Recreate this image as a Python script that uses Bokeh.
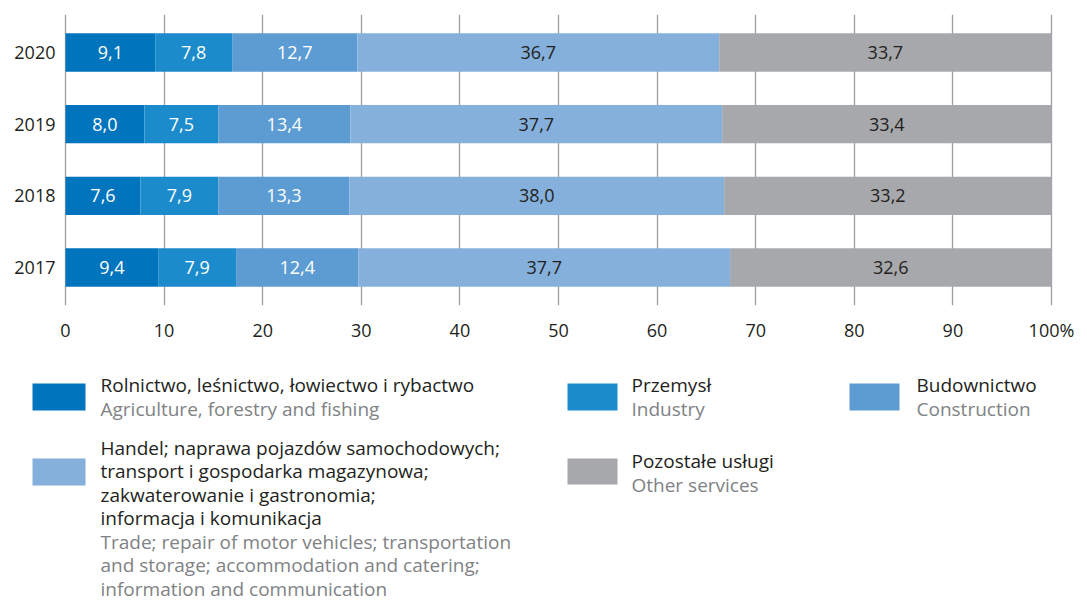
from bokeh.plotting import figure
from bokeh.layouts import column
from bokeh.models import ColumnDataSource, Range1d, FixedTicker
from bokeh.core.properties import value
from bokeh.embed import file_html
from bokeh.resources import INLINE

# ---------------- data ----------------
years = [2017, 2018, 2019, 2020]
agriculture = [9.4, 7.6, 8.0, 9.1]
industry = [7.9, 7.9, 7.5, 7.8]
construction = [12.4, 13.3, 13.4, 12.7]
trade = [37.7, 38.0, 37.7, 36.7]
other = [32.6, 33.2, 33.4, 33.7]
x_ticks = [0, 10, 20, 30, 40, 50, 60, 70, 80, 90, 100]

series_names = ["agriculture", "industry", "construction", "trade", "other"]
series_values = [agriculture, industry, construction, trade, other]
series_pl = ["Rolnictwo, leśnictwo, łowiectwo i rybactwo", "Przemysł", "Budownictwo",
             "Handel; naprawa pojazdów samochodowych;\ntransport i gospodarka magazynowa;\nzakwaterowanie i gastronomia;\ninformacja i komunikacja",
             "Pozostałe usługi"]
series_en = ["Agriculture, forestry and fishing", "Industry", "Construction",
             "Trade; repair of motor vehicles; transportation\nand storage; accommodation and catering;\ninformation and communication",
             "Other services"]

# ---------------- styles ----------------
colors = ["#0074BD", "#1B8BCB", "#5C9CD3", "#85B0DC", "#A7A8AC"]
label_colors = ["#FFFFFF", "#FFFFFF", "#FFFFFF", "#231F20", "#231F20"]
FONT = "Open Sans"
DARK = "#231F20"
GREY_TXT = "#808285"

W = 1087
CH = 345
LH = 601 - CH

# plot frame spans the full width; 0 -> 65 px, 100 -> 1051 px
PX = (1051 - 65) / 100.0
x0 = -65 / PX
x1 = 100 + (W - 1051) / PX

# ---------------- chart ----------------
src = ColumnDataSource(dict(year=years, **{n: v for n, v in zip(series_names, series_values)}))

p = figure(width=W, height=CH, x_range=Range1d(x0, x1), y_range=Range1d(2016.47, 2020.53),
           output_backend="svg", toolbar_location=None, y_axis_location=None,
           min_border_left=0, min_border_right=0, min_border_top=14, min_border_bottom=40)
p.outline_line_color = None
p.background_fill_color = "white"
p.border_fill_color = "white"

p.hbar_stack(series_names, y="year", height=0.536, fill_color=colors, line_color=None, source=src)

# value labels
lx, ly, lt, lc = [], [], [], []
for i, yr in enumerate(years):
    cum = 0.0
    for k, vals in enumerate(series_values):
        v = vals[i]
        lx.append(cum + v / 2)
        ly.append(yr)
        lt.append(f"{v:.1f}".replace(".", ","))
        lc.append(label_colors[k])
        cum += v
p.text(x="x", y="y", text="t", text_color="c", source=ColumnDataSource(dict(x=lx, y=ly, t=lt, c=lc)),
       text_align="center", text_baseline="middle", text_font=value(FONT), text_font_size="18px")

# year (category) labels
p.text(x=[0] * len(years), y=years, text=[str(y) for y in years], x_offset=-10,
       text_align="right", text_baseline="middle", text_font=value(FONT), text_font_size="18px",
       text_color=DARK)

p.xgrid.ticker = FixedTicker(ticks=x_ticks)
p.xgrid.grid_line_color = "#9E9E9E"
p.xgrid.grid_line_width = 1.3
p.ygrid.grid_line_color = None

p.xaxis.ticker = FixedTicker(ticks=x_ticks)
p.xaxis.major_label_overrides = {100: "100%"}
p.xaxis.axis_line_color = None
p.xaxis.major_tick_line_color = None
p.xaxis.minor_tick_line_color = None
p.xaxis.major_label_text_font = FONT
p.xaxis.major_label_text_font_size = "18px"
p.xaxis.major_label_text_color = DARK
p.xaxis.major_label_standoff = 6

# ---------------- legend ----------------
top = CH
lg = figure(width=W, height=LH, x_range=Range1d(0, W), y_range=Range1d(top + LH, top),
            output_backend="svg", toolbar_location=None, min_border=0,
            min_border_left=0, min_border_right=0, min_border_top=0, min_border_bottom=0,
            x_axis_location=None, y_axis_location=None)
lg.outline_line_color = None
lg.grid.visible = False
lg.border_fill_color = "white"
lg.background_fill_color = "white"

# (swatch left, right, top, bottom, text x, first line y, line step) in page pixels
legend_layout = [
    (32, 85, 383, 410, 100, 384, 24),
    (567, 617, 383, 410, 631, 384, 24),
    (849, 899, 383, 410, 916, 384, 24),
    (32, 85, 458, 485, 100, 447, 23.5),
    (567, 617, 458, 484, 631, 460, 24),
]
ql, qr, qt, qb = [], [], [], []
tx, ty, tt, tc = [], [], [], []
for k, (l, r, t_, b, xt, y0, step) in enumerate(legend_layout):
    ql.append(l); qr.append(r); qt.append(t_); qb.append(b)
    lines = [(s, DARK) for s in series_pl[k].split("\n")] + [(s, GREY_TXT) for s in series_en[k].split("\n")]
    for j, (s, col) in enumerate(lines):
        tx.append(xt); ty.append(y0 + j * step); tt.append(s); tc.append(col)

lg.quad(left=ql, right=qr, top=qt, bottom=qb, fill_color=colors, line_color=None)
lg.text(x="x", y="y", text="t", text_color="c", source=ColumnDataSource(dict(x=tx, y=ty, t=tt, c=tc)),
        text_align="left", text_baseline="middle", text_font=value(FONT), text_font_size="19px")

layout = column(p, lg, spacing=0)
open("out.html", "w").write(file_html(layout, INLINE))
